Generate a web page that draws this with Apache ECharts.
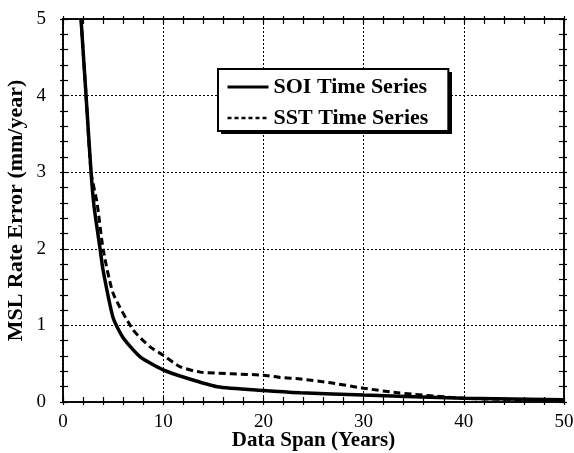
<!DOCTYPE html>
<html>
<head>
<meta charset="utf-8">
<script src="https://cdn.jsdelivr.net/npm/echarts@6/dist/echarts.min.js"></script>
<style>
  html, body { margin: 0; padding: 0; background: #fff; }
  #main { width: 574px; height: 453px; }
</style>
</head>
<body>
<div id="main"></div>
<script>
// values
const soiSpan = [1.8, 2.3, 2.8, 3.1, 3.7, 4.0, 5.0, 6.0, 7.7, 10, 12.4, 15.4, 20, 23.7, 30, 40, 50];
const soiErr  = [5.0, 4.0, 3.0, 2.55, 2.0, 1.72, 1.1, 0.84, 0.59, 0.42, 0.31, 0.20, 0.15, 0.12, 0.09, 0.05, 0.03];
const sstSpan = [1.8, 2.3, 2.8, 3.4, 4.0, 5.0, 7.0, 8.7, 10, 11.7, 13.7, 20, 21.7, 23.7, 26.7, 30, 33.4, 40, 50];
const sstErr  = [5.0, 4.0, 3.0, 2.6, 2.0, 1.42, 0.94, 0.72, 0.61, 0.46, 0.39, 0.35, 0.32, 0.30, 0.25, 0.18, 0.12, 0.05, 0.02];
const seriesNames = ["SOI Time Series", "SST Time Series"];

const FONT = "'Liberation Serif', 'Times New Roman', serif";

function pairs(xs, ys) {
  return xs.map((x, i) => [x, ys[i]]);
}

// x axes: one carries labels/grid, the others only draw crossing ticks
function xAxisCfg(pos, inside, main) {
  return {
    type: "value", position: pos, min: 0, max: 50, interval: 10,
    axisLine: { show: true, onZero: false, lineStyle: { color: "#000", width: 1.5 } },
    axisTick: { show: true, inside: inside, length: inside ? 5 : 3, lineStyle: { color: "#000", width: 1.2 } },
    minorTick: { show: true, splitNumber: 5, length: inside ? 5 : 3, lineStyle: { color: "#000", width: 1.2 } },
    axisLabel: main ? { show: true, margin: 11, color: "#000", fontFamily: FONT, fontSize: 19 } : { show: false },
    splitLine: main ? { show: true, lineStyle: { color: "#000", type: [2, 2], width: 1 } } : { show: false },
    name: main ? "Data Span (Years)" : "",
    nameLocation: "middle", nameGap: 28, nameMoveOverlap: false,
    nameTextStyle: { color: "#000", fontFamily: FONT, fontWeight: "bold", fontSize: 21 }
  };
}
function yAxisCfg(pos, inside, main) {
  return {
    type: "value", position: pos, min: 0, max: 5, interval: 1,
    axisLine: { show: true, onZero: false, lineStyle: { color: "#000", width: 1.5 } },
    axisTick: { show: true, inside: inside, length: inside ? 5 : 3, lineStyle: { color: "#000", width: 1.2 } },
    minorTick: { show: true, splitNumber: 5, length: inside ? 5 : 3, lineStyle: { color: "#000", width: 1.2 } },
    axisLabel: main ? { show: true, margin: 17, color: "#000", fontFamily: FONT, fontSize: 19 } : { show: false },
    splitLine: main ? { show: true, lineStyle: { color: "#000", type: [2, 2], width: 1 } } : { show: false },
    name: main ? "MSL Rate Error (mm/year)" : "",
    nameLocation: "middle", nameGap: 36, nameRotate: 90, nameMoveOverlap: false,
    nameTextStyle: { color: "#000", fontFamily: FONT, fontWeight: "bold", fontSize: 22 }
  };
}

const chart = echarts.init(document.getElementById("main"), null, { renderer: "canvas" });
chart.setOption({
  animation: false,
  backgroundColor: "#fff",
  grid: { left: 63, right: 10, top: 19, bottom: 51, outerBoundsMode: "none", containLabel: false },
  xAxis: [
    xAxisCfg("bottom", false, true),
    xAxisCfg("bottom", true, false),
    xAxisCfg("top", true, false),
    xAxisCfg("top", false, false)
  ],
  yAxis: [
    yAxisCfg("left", false, true),
    yAxisCfg("left", true, false),
    yAxisCfg("right", true, false),
    yAxisCfg("right", false, false)
  ],
  // drop shadow of the legend box (bottom/right)
  graphic: [{
    type: "rect", z: 3,
    shape: { x: 221, y: 72, width: 231, height: 62 },
    style: { fill: "#000" }
  }],
  legend: {
    z: 5,
    orient: "vertical",
    left: 218, top: 69,
    padding: [7, 20, 2, 8],
    itemGap: 9,
    itemWidth: 41, itemHeight: 16,
    backgroundColor: "#fff",
    borderColor: "#000", borderWidth: 2,
    itemStyle: { opacity: 0 },
    textStyle: { color: "#000", fontFamily: FONT, fontWeight: "bold", fontSize: 22 },
    data: [
      { name: seriesNames[0], lineStyle: { color: "#000", width: 3, type: "solid" } },
      { name: seriesNames[1], lineStyle: { color: "#000", width: 2.5, type: [4, 3] } }
    ]
  },
  series: [
    {
      name: seriesNames[0], type: "line", smooth: 0.2, symbol: "none",
      xAxisIndex: 0, yAxisIndex: 0,
      lineStyle: { color: "#000", width: 3.5, type: "solid" },
      itemStyle: { color: "#000" },
      data: pairs(soiSpan, soiErr)
    },
    {
      name: seriesNames[1], type: "line", smooth: 0.2, symbol: "none",
      xAxisIndex: 0, yAxisIndex: 0,
      lineStyle: { color: "#000", width: 3, type: [7, 4] },
      itemStyle: { color: "#000" },
      data: pairs(sstSpan, sstErr)
    }
  ]
});
</script>
</body>
</html>
